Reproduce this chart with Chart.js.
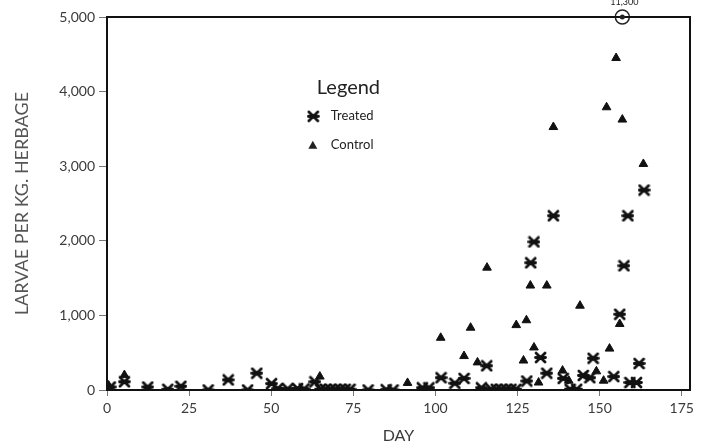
<!DOCTYPE html>
<html>
<head>
<meta charset="utf-8">
<script src="https://cdn.jsdelivr.net/npm/chart.js@4.4.1/dist/chart.umd.min.js"></script>
<style>
  html, body { margin: 0; padding: 0; background: #fff; }
  #wrap { width: 718px; height: 447px; }
</style>
</head>
<body>
<div id="wrap"><canvas id="chart"></canvas></div>
<script>
// Treated plots (asterisks): day, larvae per kg herbage
const treatedDays = [1, 5.3, 12.4, 18.5, 22.5, 30.8, 36.9, 42.8, 45.6, 50.1, 52, 55, 58, 60, 63.3,
  65, 66.5, 68, 69.5, 71, 72.5, 74, 79.5, 85, 87.1, 96, 98, 101.7, 105.9, 108.7, 114, 115.6,
  117, 118.5, 120, 121.5, 123, 124.5, 127.8, 129, 130, 132, 133.9, 135.9, 138.9, 141, 143,
  145, 147, 148, 154.3, 156.1, 157.4, 158.6, 159.2, 161.2, 162, 163.5];
const treatedValues = [40, 110, 40, 10, 50, 0, 135, 0, 225, 85, 20, 15, 20, 15, 110,
  10, 10, 10, 10, 10, 10, 10, 0, 5, 0, 30, 30, 165, 90, 155, 30, 325,
  10, 10, 10, 10, 10, 10, 120, 1705, 1985, 435, 225, 2335, 155, 10, 10,
  195, 165, 425, 180, 1015, 1665, 2335, 100, 100, 355, 2680];

// Control plots (triangles)
const controlDays = [0.5, 5.3, 64.8, 91.5, 101.6, 108.7, 110.7, 112.8, 115.7, 124.6, 126.8, 127.7,
  128.9, 130, 131.4, 133.9, 135.9, 138.7, 140.6, 144, 149, 151.2, 152.1, 153, 155, 156.1, 156.9, 163.3];
const controlValues = [60, 200, 180, 95, 700, 455, 835, 370, 1640, 870, 395, 935,
  1400, 570, 100, 1400, 3525, 260, 125, 1130, 250, 125, 3790, 555, 4450, 885, 3625, 3030];

// Off-scale plot (circled, value written above the frame)
const offScaleDays = [156.9];
const offScaleValues = [5000];
const offScaleLabels = ["11,300"];

const xTicks = [0, 25, 50, 75, 100, 125, 150, 175];
const yTicks = [0, 1000, 2000, 3000, 4000, 5000];

const toXY = (xs, ys) => xs.map((x, i) => ({ x: x, y: ys[i] }));

// asterisk-like marker: an X crossed by a horizontal bar
function makeAsterisk(size) {
  const c = document.createElement("canvas");
  c.width = size; c.height = size;
  const g = c.getContext("2d");
  const m = 2, e = size - 2;
  g.strokeStyle = "#111";
  g.lineWidth = 2.8;
  g.lineCap = "round";
  g.beginPath();
  g.moveTo(m, m); g.lineTo(e, e);
  g.moveTo(e, m); g.lineTo(m, e);
  g.moveTo(1.5, size / 2); g.lineTo(size - 1.5, size / 2);
  g.stroke();
  return c;
}
const asterisk = makeAsterisk(13);

const textColor = "#3a3a3a";
const fontFamily = "Lato, 'DejaVu Sans', sans-serif";

// frame round the plot, the legend box and the off-scale label
const extras = {
  id: "extras",
  afterDraw(chart) {
    const { ctx, chartArea: a } = chart;
    ctx.save();
    ctx.strokeStyle = "#111";
    ctx.lineWidth = 2;
    ctx.strokeRect(a.left, a.top, a.right - a.left, a.bottom - a.top);

    // legend
    const lx = a.left + (a.right - a.left) * 0.353;
    const ly = a.top + (a.bottom - a.top) * 0.19;
    ctx.fillStyle = "#222";
    ctx.textBaseline = "middle";
    ctx.textAlign = "left";
    ctx.font = "20px " + fontFamily;
    ctx.fillText("Legend", lx + 4, ly);
    ctx.font = "13px " + fontFamily;
    ctx.drawImage(asterisk, lx - 6, ly + 28 - 6);
    ctx.fillText("Treated", lx + 18, ly + 28);
    ctx.beginPath();
    ctx.moveTo(lx, ly + 53);
    ctx.lineTo(lx + 4.5, ly + 61);
    ctx.lineTo(lx - 4.5, ly + 61);
    ctx.closePath();
    ctx.fill();
    ctx.fillText("Control", lx + 18, ly + 57);

    // off-scale value
    const meta = chart.getDatasetMeta(2);
    ctx.font = "9px " + fontFamily;
    ctx.textAlign = "center";
    meta.data.forEach((pt, i) => {
      ctx.fillText(offScaleLabels[i], pt.x + 2, pt.y - 15);
      ctx.beginPath();
      ctx.arc(pt.x, pt.y, 2.5, 0, Math.PI * 2);
      ctx.fill();
    });
    ctx.restore();
  }
};

new Chart(document.getElementById("chart"), {
  type: "scatter",
  data: {
    datasets: [
      {
        label: "Treated",
        data: toXY(treatedDays, treatedValues),
        pointStyle: asterisk,
        pointRadius: 6,
      },
      {
        label: "Control",
        data: toXY(controlDays, controlValues),
        pointStyle: "triangle",
        pointRadius: 5,
        backgroundColor: "#111",
        borderColor: "#111",
        borderWidth: 1,
      },
      {
        label: "Off scale",
        data: toXY(offScaleDays, offScaleValues),
        pointStyle: "circle",
        pointRadius: 7,
        backgroundColor: "rgba(0,0,0,0)",
        borderColor: "#222",
        borderWidth: 1.5,
        clip: false,
      },
    ],
  },
  options: {
    responsive: true,
    maintainAspectRatio: false,
    animation: false,
    layout: { padding: { top: 17, right: 28, left: 0, bottom: 0 } },
    plugins: {
      legend: { display: false },
      tooltip: { enabled: false },
    },
    scales: {
      x: {
        type: "linear",
        min: 0,
        max: 177.5,
        afterBuildTicks: (s) => { s.ticks = xTicks.map((v) => ({ value: v })); },
        afterFit: (s) => { s.height = 57; },
        grid: { drawOnChartArea: false, tickLength: 6, tickColor: "#777" },
        border: { color: "#111", width: 2 },
        ticks: { color: textColor, padding: 4, font: { family: fontFamily, size: 14 } },
        title: {
          display: true,
          text: "DAY",
          color: textColor,
          padding: { top: 0, bottom: 2 },
          font: { family: fontFamily, size: 16 },
        },
      },
      y: {
        min: 0,
        max: 5000,
        afterBuildTicks: (s) => { s.ticks = yTicks.map((v) => ({ value: v })); },
        afterFit: (s) => { s.width = 107; },
        grid: { drawOnChartArea: false, tickLength: 8, tickColor: "#777" },
        border: { color: "#111", width: 2 },
        ticks: {
          color: textColor,
          padding: 4,
          font: { family: fontFamily, size: 14 },
          callback: (v) => v.toLocaleString("en-US"),
        },
        title: {
          display: true,
          text: "LARVAE PER KG. HERBAGE",
          color: "#555",
          padding: { top: 11, bottom: 0 },
          font: { family: fontFamily, size: 18 },
        },
      },
    },
  },
  plugins: [extras],
});
</script>
</body>
</html>
